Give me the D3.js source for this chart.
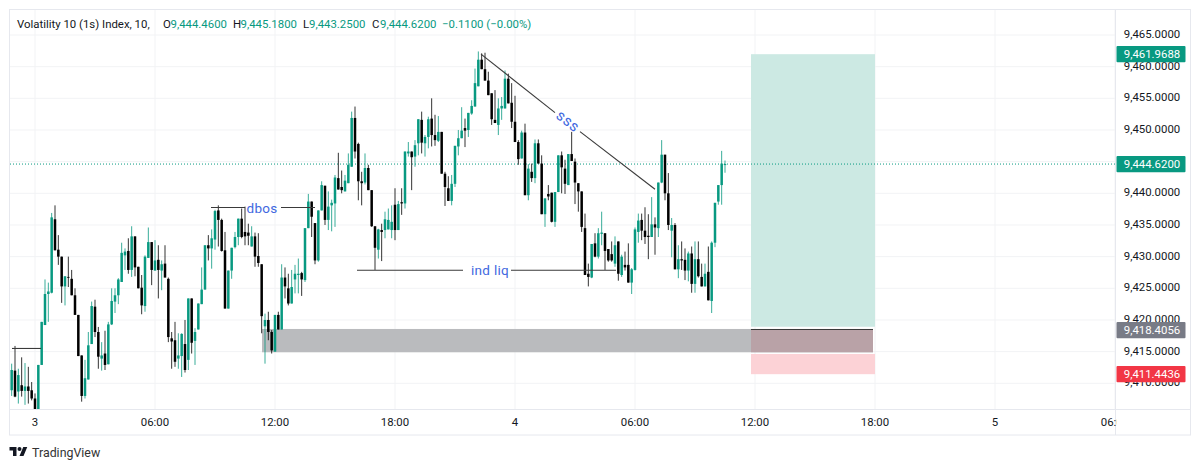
<!DOCTYPE html>
<html><head><meta charset="utf-8">
<script src="https://cdn.jsdelivr.net/npm/d3@7/dist/d3.min.js"></script>
<style>html,body{margin:0;padding:0;background:#fff}svg{display:block}text{font-family:Roboto,"Noto Sans",sans-serif}</style>
</head><body><div id="chart"></div>
<script>
// Candles: one every 10 minutes, the eighth falls on 00:00 of day 3
const opens=[9408.9,9412.0,9408.7,9409.7,9408.8,9409.5,9408.9,9407.6,9405.4,9412.9,
9419.2,9424.1,9424.3,9435.9,9431.1,9430.0,9425.3,9426.8,9426.5,9423.9,
9420.8,9414.4,9408.0,9410.6,9416.2,9422.1,9418.1,9413.9,9414.7,9413.0,
9419.3,9422.9,9423.9,9426.0,9430.2,9430.9,9427.9,9433.2,9428.4,9425.1,
9422.2,9429.8,9432.3,9427.8,9429.5,9427.8,9428.9,9426.5,9417.1,9416.8,
9413.9,9414.3,9416.2,9413.7,9423.4,9416.7,9418.5,9422.5,9424.8,9431.8,
9431.3,9432.7,9437.3,9435.8,9431.0,9421.8,9427.8,9431.5,9433.1,9436.0,
9433.9,9433.8,9431.6,9433.2,9430.1,9428.8,9419.0,9420.0,9418.1,9415.0,
9420.8,9418.5,9426.7,9425.0,9422.6,9426.4,9427.1,9427.4,9426.3,9434.5,
9438.7,9435.3,9429.4,9437.3,9441.2,9435.8,9438.1,9438.4,9442.4,9441.0,
9440.3,9441.6,9444.2,9451.9,9447.8,9441.9,9441.7,9444.0,9440.5,9434.8,
9431.1,9434.2,9434.2,9434.3,9434.2,9438.2,9434.2,9438.6,9438.4,9446.3,
9446.6,9445.8,9447.9,9451.6,9447.9,9448.9,9451.8,9449.2,9448.3,9449.7,
9443.1,9440.8,9438.8,9441.5,9447.4,9448.7,9450.3,9450.0,9452.6,9453.7,
9456.9,9461.1,9459.6,9457.8,9455.8,9451.6,9450.8,9453.4,9453.4,9458.1,
9454.3,9451.3,9448.1,9445.5,9449.6,9439.7,9443.4,9442.4,9447.9,9444.7,
9436.7,9439.9,9440.1,9435.5,9440.2,9446.0,9443.9,9441.3,9446.2,9445.0,
9441.6,9440.3,9434.5,9427.3,9426.7,9432.1,9430.0,9433.6,9433.7,9431.2,
9430.4,9428.9,9432.4,9427.1,9428.7,9428.7,9425.9,9427.9,9433.9,9435.8,
9434.1,9433.3,9433.1,9435.1,9434.5,9441.7,9446.1,9440.0,9434.1,9435.0,
9428.0,9429.6,9429.5,9427.8,9430.5,9425.7,9429.6,9426.8,9425.3,9427.6,
9423.0,9432.2,9438.7,9441.3,9444.46];
const highs=[9413.1,9415.9,9412.3,9414.1,9413.2,9412.6,9410.2,9408.4,9412.9,9419.7,
9426.4,9425.9,9436.9,9438.1,9433.4,9430.0,9426.9,9430.0,9427.9,9425.0,
9420.8,9414.4,9413.7,9418.1,9422.9,9423.2,9418.9,9416.5,9418.3,9419.7,
9425.0,9425.0,9426.6,9432.2,9431.3,9432.9,9434.8,9433.2,9428.4,9427.1,
9430.2,9434.6,9432.3,9432.6,9431.8,9429.4,9431.8,9426.7,9418.1,9419.7,
9417.9,9417.9,9420.0,9423.4,9423.4,9418.7,9422.6,9428.3,9431.8,9433.4,
9434.3,9437.4,9438.1,9436.0,9433.9,9427.8,9431.4,9433.9,9436.0,9437.6,
9437.9,9435.2,9434.8,9433.8,9433.7,9428.8,9421.0,9421.3,9418.4,9420.8,
9421.3,9428.8,9428.3,9427.3,9427.9,9428.7,9429.7,9427.6,9434.5,9439.9,
9438.7,9435.3,9437.3,9441.9,9441.2,9440.3,9439.0,9442.9,9446.4,9443.6,
9442.9,9446.3,9452.9,9453.7,9448.0,9443.4,9446.3,9444.5,9440.5,9434.8,
9434.4,9435.2,9437.1,9437.6,9438.1,9440.8,9438.8,9440.8,9446.6,9448.1,
9446.6,9448.4,9451.7,9452.9,9449.2,9452.1,9455.0,9452.4,9452.2,9449.7,
9443.4,9442.7,9442.9,9447.5,9450.0,9453.6,9451.8,9452.7,9454.7,9459.7,
9462.4,9462.1,9462.2,9459.2,9455.8,9456.3,9455.0,9455.2,9459.4,9458.9,
9457.4,9455.4,9448.4,9449.9,9451.0,9444.6,9444.7,9448.5,9448.5,9446.0,
9439.2,9441.3,9440.1,9440.2,9446.0,9446.6,9445.3,9446.2,9449.7,9445.5,
9441.6,9440.3,9436.8,9428.9,9432.0,9433.7,9434.5,9437.1,9433.7,9431.2,
9432.4,9433.2,9432.4,9430.3,9430.8,9432.1,9428.2,9434.6,9436.8,9436.8,
9437.8,9436.7,9439.4,9436.2,9441.7,9448.4,9446.1,9443.2,9436.1,9435.3,
9431.8,9432.4,9431.3,9430.8,9431.6,9432.4,9432.4,9428.9,9428.9,9431.6,
9432.4,9438.5,9441.3,9446.7,9445.18];
const lows=[9408.0,9407.8,9406.8,9407.9,9406.6,9406.8,9407.3,9405.0,9405.0,9412.9,
9419.2,9419.7,9424.2,9431.0,9428.7,9422.7,9422.3,9425.2,9423.9,9420.8,
9414.3,9407.1,9407.6,9410.6,9416.2,9417.3,9412.3,9412.0,9412.1,9413.0,
9419.2,9421.1,9422.5,9426.0,9427.9,9427.3,9426.8,9426.9,9425.0,9420.9,
9421.3,9429.8,9425.5,9427.8,9423.4,9424.7,9426.7,9416.5,9412.3,9412.6,
9412.3,9411.0,9411.7,9412.1,9414.7,9412.9,9418.5,9422.5,9424.8,9429.4,
9428.1,9431.1,9431.6,9430.8,9421.8,9421.8,9426.5,9431.3,9431.8,9432.9,
9431.8,9431.8,9431.6,9428.4,9428.4,9417.9,9413.1,9416.8,9414.7,9415.0,
9418.5,9418.5,9423.4,9422.3,9422.6,9424.2,9424.2,9423.8,9426.0,9434.5,
9433.1,9428.8,9429.2,9437.3,9435.0,9434.2,9434.0,9434.7,9440.6,9440.0,
9440.3,9441.6,9444.2,9445.5,9438.9,9438.1,9441.4,9440.5,9434.7,9427.9,
9429.7,9429.3,9432.9,9434.3,9432.9,9432.6,9434.2,9436.6,9437.6,9445.8,
9440.5,9444.2,9446.0,9446.3,9445.8,9447.1,9447.4,9447.5,9448.1,9443.1,
9438.0,9438.8,9438.1,9441.0,9446.0,9448.7,9447.3,9448.9,9452.4,9453.7,
9456.9,9459.6,9457.8,9455.5,9450.8,9451.1,9449.2,9451.6,9453.4,9454.2,
9450.3,9448.1,9444.5,9445.5,9439.7,9438.9,9441.8,9441.6,9444.7,9436.7,
9434.7,9438.9,9435.4,9434.7,9440.2,9440.0,9439.9,9441.3,9445.1,9438.3,
9437.1,9433.9,9427.1,9425.3,9426.6,9429.9,9429.7,9431.8,9427.9,9429.2,
9429.2,9428.4,9426.2,9426.8,9427.8,9425.9,9424.1,9427.8,9432.2,9432.6,
9432.0,9429.6,9433.1,9430.3,9433.1,9441.6,9438.9,9434.2,9429.9,9428.0,
9426.6,9427.9,9426.3,9426.1,9424.3,9424.3,9426.7,9425.3,9425.3,9423.1,
9421.1,9431.5,9438.2,9438.2,9443.25];
const closes=[9412.1,9407.9,9411.3,9408.8,9409.5,9408.8,9407.6,9405.4,9412.9,9419.7,
9424.1,9424.5,9436.2,9431.0,9430.0,9425.3,9426.9,9426.7,9423.9,9420.8,
9414.3,9408.0,9410.8,9416.0,9422.2,9418.1,9414.2,9414.4,9412.9,9419.3,
9423.0,9423.9,9426.4,9430.6,9430.8,9427.9,9433.2,9428.3,9425.0,9422.3,
9430.0,9432.3,9427.9,9429.4,9427.9,9428.8,9426.7,9417.3,9416.6,9413.4,
9414.4,9417.8,9412.1,9423.4,9416.4,9418.1,9422.6,9424.8,9431.8,9431.3,
9432.9,9437.2,9435.8,9430.9,9421.8,9427.8,9431.4,9433.1,9436.0,9433.1,
9433.2,9433.3,9433.2,9430.0,9429.0,9420.6,9420.0,9418.1,9415.2,9420.8,
9418.5,9426.7,9425.3,9422.6,9425.2,9427.3,9427.3,9426.4,9434.5,9438.7,
9436.3,9429.4,9437.3,9441.3,9435.8,9437.9,9438.5,9442.5,9440.6,9440.5,
9442.0,9444.5,9451.9,9446.6,9441.9,9441.6,9444.0,9440.5,9434.8,9431.4,
9434.3,9433.9,9435.9,9435.8,9435.5,9434.2,9438.3,9438.4,9446.6,9446.6,
9445.7,9447.6,9451.7,9448.0,9448.9,9451.7,9449.2,9448.4,9449.7,9443.1,
9441.0,9438.8,9441.5,9447.5,9448.7,9449.9,9449.9,9452.7,9453.8,9457.4,
9461.1,9459.6,9457.8,9455.5,9451.7,9451.1,9453.4,9453.8,9458.1,9454.2,
9451.3,9448.1,9445.4,9449.6,9439.7,9443.9,9442.4,9447.9,9444.7,9436.7,
9439.2,9439.5,9435.5,9440.2,9446.0,9444.1,9441.5,9446.2,9445.1,9441.7,
9440.3,9434.7,9427.1,9426.8,9432.0,9430.0,9433.7,9433.8,9430.9,9429.4,
9429.4,9431.8,9427.3,9430.0,9428.3,9425.9,9428.0,9434.3,9435.7,9434.1,
9433.1,9433.1,9435.1,9434.6,9441.7,9446.1,9440.0,9435.0,9435.0,9428.0,
9429.6,9429.4,9427.8,9430.5,9425.7,9429.6,9426.9,9425.3,9427.3,9423.1,
9432.2,9438.5,9441.3,9444.7,9444.62];

const priceTicks=[9465,9460,9455,9450,9445,9440,9435,9430,9425,9420,9415,9410];
const priceTickLabels=[9465,9460,9455,9450,9440,9435,9430,9425,9420,9415,9410];
const timeTickHours=[0,6,12,18,24,30,36,42,48,54];
const timeTickLabels=["3","06:00","12:00","18:00","4","06:00","12:00","18:00","5","06:00"];

const tradeTop=9461.9688, tradeEntry=9418.4056, tradeStop=9411.4436, lastPrice=9444.62;
const targetBox=[35.8,42,9461.97,9418.93];
const stopBox=[35.8,42,9414.63,9411.44];
const zoneBox=[11.35,41.9,9418.58,9414.9];
const overlapBox=[35.8,41.9,9418.58,9414.9];

const plainLines=[
 [-1.15,9415.5,0.3,9415.5],
 [8.8,9437.75,10.5,9437.75],[12.3,9437.75,14,9437.75],
 [16.1,9427.85,21.4,9427.85],[23.8,9427.85,29.05,9427.85],
 [22.3,9461.97,26,9452.75],[27.25,9449.75,31,9440.65],
 [35.8,9418.5,41.9,9418.5]
];
const notes=[["dbos",11.35,9437.75,0],["ind liq",22.75,9427.85,0],["sss",26.65,9451.4,38]];

const W=1200,H=469,L=10,R=1115,T=10,B=409,RE=1190.5,BE=435;
const x=d3.scaleLinear().domain([0,54]).range([35,1115]);
const y=d3.scaleLinear().domain([9410,9465]).range([383.3,35]);
const svg=d3.select("#chart").append("svg").attr("width",W).attr("height",H);
const defs=svg.append("defs");
defs.append("clipPath").attr("id","plot").append("rect").attr("x",L).attr("y",T).attr("width",R-L).attr("height",B-T);
defs.append("clipPath").attr("id","timeAxis").append("rect").attr("x",L).attr("y",B).attr("width",R-L+1.5).attr("height",BE-B);

// grid
const grid=svg.append("g").attr("stroke","#f2f3f5").attr("stroke-width",1);
grid.selectAll(".h").data(priceTicks).join("line").attr("x1",L).attr("x2",R).attr("y1",d=>y(d)).attr("y2",d=>y(d));
grid.selectAll(".v").data(timeTickHours).join("line").attr("y1",T).attr("y2",B).attr("x1",d=>x(d)).attr("x2",d=>x(d));

// frame
const frame=svg.append("g").attr("stroke","#e6e8ee").attr("fill","none");
frame.append("rect").attr("x",L-0.5).attr("y",T-0.5).attr("width",RE-L+0.5).attr("height",BE-T+0.5);
frame.append("line").attr("x1",L).attr("x2",RE).attr("y1",B+0.5).attr("y2",B+0.5);
frame.append("line").attr("x1",R+0.5).attr("x2",R+0.5).attr("y1",T).attr("y2",BE);

const plot=svg.append("g").attr("clip-path","url(#plot)");
function box(b,fill){plot.append("rect").attr("x",x(b[0])).attr("width",x(b[1])-x(b[0])).attr("y",y(b[2])).attr("height",y(b[3])-y(b[2])).attr("fill",fill);}
box(targetBox,"#cce9e3");
box(stopBox,"#fcd2d6");
box(zoneBox,"#babbbe");
box(overlapBox,"#b9a2a7");

// last price line
plot.append("line").attr("x1",L).attr("x2",R).attr("y1",y(lastPrice)).attr("y2",y(lastPrice))
 .attr("stroke","#089981").attr("stroke-width",1).attr("stroke-dasharray","1 2");

// candles
const candleHour=i=>(i-7)/6, UP="#089981", DOWN="#000";
const idx=d3.range(opens.length);
const isUp=i=>closes[i]>=opens[i];
plot.append("g").selectAll("line").data(idx).join("line")
 .attr("x1",i=>x(candleHour(i))).attr("x2",i=>x(candleHour(i)))
 .attr("y1",i=>y(highs[i])).attr("y2",i=>y(lows[i]))
 .attr("stroke",i=>isUp(i)?UP:DOWN).attr("stroke-width",1).attr("stroke-opacity",0.8);
plot.append("g").selectAll("rect").data(idx).join("rect")
 .attr("x",i=>x(candleHour(i))-1.25).attr("width",2.5)
 .attr("y",i=>y(Math.max(opens[i],closes[i])))
 .attr("height",i=>Math.max(0.8,Math.abs(y(opens[i])-y(closes[i]))))
 .attr("fill",i=>isUp(i)?UP:DOWN);

// drawings
plot.append("g").selectAll("line").data(plainLines).join("line")
 .attr("x1",d=>x(d[0])).attr("y1",d=>y(d[1])).attr("x2",d=>x(d[2])).attr("y2",d=>y(d[3]))
 .attr("stroke","#3a3a3a").attr("stroke-width",1.1);
plot.append("g").selectAll("text").data(notes).join("text")
 .attr("text-anchor","middle").attr("dominant-baseline","central")
 .attr("transform",d=>`translate(${x(d[1])},${y(d[2])}) rotate(${d[3]})`)
 .attr("fill","#3f68e0").attr("font-size",d=>d[0]==="sss"?15:13.5).attr("letter-spacing",d=>d[0]==="sss"?0.6:0.3)
 .text(d=>d[0]);

// price axis
const fmt=d3.format(",.4f");
svg.append("g").selectAll("text").data(priceTickLabels).join("text")
 .attr("x",1152).attr("y",d=>y(d)-1).attr("text-anchor","middle").attr("dominant-baseline","central")
 .attr("font-size",11.4).attr("fill","#131722").text(d=>fmt(d));
const badges=[[tradeTop,"#089981"],[lastPrice,"#089981"],[tradeEntry,"#787b86"],[tradeStop,"#f23645"]];
const bg=svg.append("g").selectAll("g").data(badges).join("g");
bg.append("rect").attr("x",1116.5).attr("width",69).attr("height",16.2).attr("rx",1)
 .attr("y",d=>y(d[0])-8.1).attr("fill",d=>d[1]);
bg.append("text").attr("x",1152).attr("y",d=>y(d[0])).attr("text-anchor","middle").attr("dominant-baseline","central")
 .attr("font-size",11.4).attr("fill","#fff").text(d=>fmt(d[0]));

// time axis
svg.append("g").attr("clip-path","url(#timeAxis)").selectAll("text").data(timeTickHours).join("text")
 .attr("x",d=>x(d)).attr("y",422).attr("text-anchor","middle").attr("dominant-baseline","central")
 .attr("font-size",11.4).attr("fill","#131722").text((d,i)=>timeTickLabels[i]);

// legend
const legend=[["Volatility 10 (1s) Index, 10,",17,"#131722"],["O",163,"#131722"],["9,444.4600",170.5,UP],
["H",233,"#131722"],["9,445.1800",240.5,UP],["L",303,"#131722"],["9,443.2500",309,UP],["C",372,"#131722"],["9,444.6200",380,UP],["−0.1100 (−0.00%)",442,UP]];
svg.append("g").selectAll("text").data(legend).join("text")
 .attr("x",d=>d[1]).attr("y",23.5).attr("dominant-baseline","central").attr("font-size",11.4).attr("fill",d=>d[2]).text(d=>d[0]);

// attribution
const logo=svg.append("g").attr("transform","translate(9.5,445) scale(0.5)").attr("fill","#131722");
logo.append("path").attr("d","M14 22H7V11H0V4h14v18zM28 22h-8l7.5-18h8L28 22z");
logo.append("circle").attr("cx",20).attr("cy",8).attr("r",4);
svg.append("text").attr("x",32).attr("y",452).attr("dominant-baseline","central").attr("font-size",12.4).attr("fill","#333").text("TradingView");
</script></body></html>
